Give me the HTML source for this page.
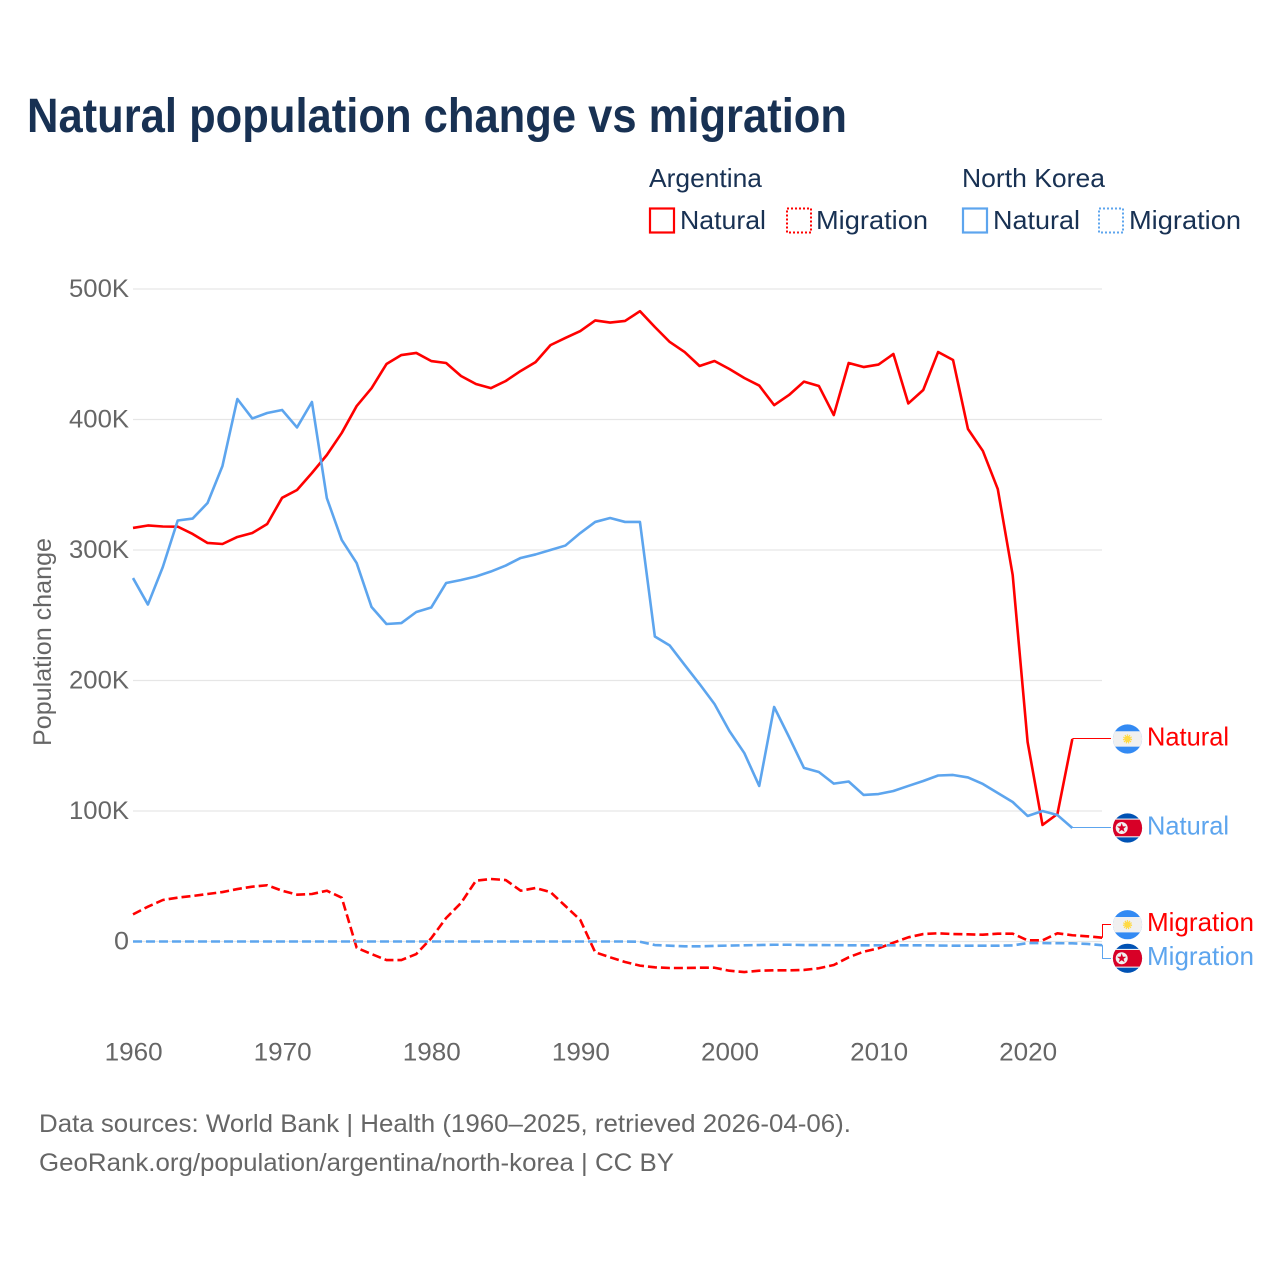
<!DOCTYPE html>
<html lang="en">
<head>
<meta charset="utf-8">
<title>Natural population change vs migration</title>
<style>
html,body{margin:0;padding:0;background:#fff;}
svg{display:block;font-family:"Liberation Sans",sans-serif;}
</style>
</head>
<body>
<svg id="chart" xmlns="http://www.w3.org/2000/svg" width="1280" height="1280" viewBox="0 0 1280 1280">
  <defs>
    <clipPath id="flag-clip"><circle cx="0" cy="0" r="14.6"/></clipPath>
    <g id="flag-ar">
      <g clip-path="url(#flag-clip)">
        <rect x="-15" y="-15" width="30" height="30" fill="#338af3"/>
        <rect x="-15" y="-7.7" width="30" height="15.4" fill="#f0f0f0"/>
        <circle cx="0" cy="0" r="3.2" fill="#ffda44"/>
        <circle cx="0" cy="0" r="3.9" fill="none" stroke="#ffda44" stroke-width="1.4" stroke-dasharray="1.2 1"/>
      </g>
    </g>
    <g id="flag-kp">
      <g clip-path="url(#flag-clip)">
        <rect x="-15" y="-15" width="30" height="30" fill="#0052b4"/>
        <rect x="-15" y="-9.4" width="30" height="18.8" fill="#f0f0f0"/>
        <rect x="-15" y="-8.3" width="30" height="16.6" fill="#d80027"/>
        <circle cx="-5.8" cy="0" r="6" fill="#f0f0f0"/>
        <polygon points="-5.8,-5 -4.6,-1.6 -1.1,-1.6 -3.9,0.6 -2.9,4 -5.8,2 -8.7,4 -7.7,0.6 -10.5,-1.6 -7,-1.6" fill="#d80027"/>
      </g>
    </g>
  </defs>

  <rect x="0" y="0" width="1280" height="1280" fill="#ffffff"/>

  <text x="27" y="132" font-size="48" font-weight="700" fill="#183153" textLength="820" lengthAdjust="spacingAndGlyphs">Natural population change vs migration</text>

  <g font-size="26" fill="#183153">
    <text x="649" y="187" textLength="113" lengthAdjust="spacingAndGlyphs">Argentina</text>
    <text x="962" y="187" textLength="143" lengthAdjust="spacingAndGlyphs">North Korea</text>

    <rect x="650" y="208.5" width="24" height="24" fill="none" stroke="#ff0000" stroke-width="2.2"/>
    <text x="680" y="229" textLength="86" lengthAdjust="spacingAndGlyphs">Natural</text>
    <rect x="787" y="208.5" width="24" height="24" fill="none" stroke="#ff0000" stroke-width="2" stroke-dasharray="2 2"/>
    <text x="816" y="229" textLength="112" lengthAdjust="spacingAndGlyphs">Migration</text>

    <rect x="963" y="208.5" width="24" height="24" fill="none" stroke="#5da5ee" stroke-width="2.2"/>
    <text x="993" y="229" textLength="87" lengthAdjust="spacingAndGlyphs">Natural</text>
    <rect x="1099" y="208.5" width="24" height="24" fill="none" stroke="#5da5ee" stroke-width="2" stroke-dasharray="2 2"/>
    <text x="1129" y="229" textLength="112" lengthAdjust="spacingAndGlyphs">Migration</text>
  </g>

  <g id="grid"></g>
  <g id="yticks"></g>
  <g id="xticks"></g>
  <text transform="translate(51,642) rotate(-90)" text-anchor="middle" font-size="25" fill="#666666" textLength="208" lengthAdjust="spacingAndGlyphs">Population change</text>
  <g id="series"></g>
  <g id="endlabels"></g>

  <g font-size="25" fill="#666666">
    <text x="39" y="1132" textLength="812" lengthAdjust="spacingAndGlyphs">Data sources: World Bank | Health (1960–2025, retrieved 2026-04-06).</text>
    <text x="39" y="1171" textLength="635" lengthAdjust="spacingAndGlyphs">GeoRank.org/population/argentina/north-korea | CC BY</text>
  </g>
</svg>

<script>
// Data (values in thousands of people)
var startYear = 1960;
var yTickValues = [0, 100, 200, 300, 400, 500];
var yTickLabels = ['0', '100K', '200K', '300K', '400K', '500K'];
var xTickValues = [1960, 1970, 1980, 1990, 2000, 2010, 2020];

// 1960-2023
var argentinaNatural = [316.9,318.8,318,317.9,312.3,305.4,304.6,310,313,319.9,340,346,359,372.8,389.7,410.3,424,442.5,449.4,451,444.8,443.3,433.3,427.2,424,429.5,437.2,444,457,462.5,467.8,475.9,474.3,475.5,483,470.9,459.4,451.7,441,444.8,438.7,431.8,426,411,418.8,429,425.7,403.4,443.3,440.2,442.1,450.2,412.3,422.6,451.7,445.6,392.7,375.9,346.7,280.8,152.9,89.3,97.7,155.2];
// 1960-2023
var northKoreaNatural = [278.5,258.2,287,322.6,324.1,336,364.4,415.7,400.8,405,407.3,393.9,413.4,339.8,307.7,290,256.3,243.3,244,252.5,255.9,274.7,277,279.7,283.5,288.1,293.9,296.6,300,303.4,313,321.5,324.5,321.5,321.5,233.7,226.8,211.9,197.3,182,161.3,144.4,119.2,179.7,156.7,133,129.9,121,122.6,112.3,113,115.3,119.2,123,127.2,127.6,125.7,120.7,113.8,106.9,96.2,100,96.9,87];
// 1960-2025
var argentinaMigration = [20.8,26.7,31.8,33.6,34.9,36.4,37.9,40.2,42,43.1,38.9,35.9,36.4,38.9,33.6,-4.8,-9.6,-14.2,-14.2,-9.6,2.5,18,29.5,46.6,47.9,47.1,38.9,41,37.9,27.2,16.5,-8.3,-12.1,-15.7,-18.5,-19.8,-20.3,-20.3,-20.1,-20.1,-22.4,-23.4,-22.4,-22.1,-22.1,-21.8,-20.5,-18,-12.1,-7.8,-5.2,-0.9,3.2,5.7,6.3,5.7,5.5,5.2,6,6,0.9,0.9,6.3,4.8,4,2.9];
// 1960-2025
var northKoreaMigration = [0,0,0,0,0,0,0,0,0,0,0,0,0,0,0,0,0,0,0,0,0,0,0,0,0,0,0,0,0,0,0,0,0,0,-0.2,-2.7,-3.2,-3.7,-3.7,-3.4,-3.1,-2.9,-2.7,-2.5,-2.5,-2.7,-2.7,-2.8,-2.9,-2.9,-2.9,-2.9,-2.9,-2.9,-3.1,-3.2,-3.2,-3.2,-3.2,-3,-1.2,-1.2,-1.3,-1.4,-1.9,-2.8];

var RED = '#ff0000';
var BLUE = '#5da5ee';
var SVGNS = 'http://www.w3.org/2000/svg';

function xScale(year) { return 133 + (year - 1960) * 14.91; }
function yScale(v) { return 941.5 - v * 1.305; }

function make(tag, parent, attrs, text) {
  var el = document.createElementNS(SVGNS, tag);
  for (var k in attrs) { el.setAttribute(k, attrs[k]); }
  if (text !== undefined) { el.textContent = text; }
  parent.appendChild(el);
  return el;
}

var grid = document.getElementById('grid');
var yticks = document.getElementById('yticks');
var xticks = document.getElementById('xticks');
var seriesG = document.getElementById('series');
var endG = document.getElementById('endlabels');

yTickValues.forEach(function (v, i) {
  var line = make('line', grid, {x1: 133, x2: 1102, y1: yScale(v), y2: yScale(v), stroke: '#e6e6e6', 'stroke-width': 1.2});
  
  
  var label = make('text', yticks, {x: 129, y: yScale(v) + 8, 'text-anchor': 'end', 'font-size': 25, fill: '#666666', textLength: v === 0 ? 15 : 60, lengthAdjust: 'spacingAndGlyphs'}, yTickLabels[i]);
  
  
});

xTickValues.forEach(function (yr) {
  var label = make('text', xticks, {x: xScale(yr) + 0.6, y: 1060.5, 'text-anchor': 'middle', 'font-size': 25, fill: '#666666', textLength: 58, lengthAdjust: 'spacingAndGlyphs'}, String(yr));
  
  
});

function linePath(values) {
  return values.map(function (v, i) {
    return (i ? 'L' : 'M') + xScale(startYear + i).toFixed(2) + ' ' + yScale(v).toFixed(2);
  }).join(' ');
}

function drawSeries(values, color, dashed, name) {
  var attrs = {d: linePath(values), fill: 'none', stroke: color, 'stroke-width': 2.6, 'stroke-linejoin': 'round'};
  if (dashed) { attrs['stroke-dasharray'] = '9 4'; }
  var p = make('path', seriesG, attrs);
  
  
}

drawSeries(argentinaMigration, RED, true, 'line-argentina-migration');
drawSeries(argentinaNatural, RED, false, 'line-argentina-natural');
drawSeries(northKoreaNatural, BLUE, false, 'line-north-korea-natural');
drawSeries(northKoreaMigration, BLUE, true, 'line-north-korea-migration');

function drawEndLabel(values, color, flag, text, width, labelY, name) {
  var lastX = xScale(startYear + values.length - 1);
  var lastY = yScale(values[values.length - 1]);
  var snappedY = Math.floor(labelY) + 0.5;
  var d = (Math.abs(labelY - lastY) < 1.5)
    ? 'M' + lastX + ' ' + snappedY + ' L1111 ' + snappedY
    : 'M' + (Math.floor(lastX) + 0.5) + ' ' + lastY + ' L' + (Math.floor(lastX) + 0.5) + ' ' + snappedY + ' L1111 ' + snappedY;
  var conn = make('path', endG, {d: d, fill: 'none', stroke: color, 'stroke-width': 1});
  
  
  var use = make('use', endG, {href: '#' + flag, transform: 'translate(1127.5,' + labelY + ')'});
  
  
  var t = make('text', endG, {x: 1147, y: labelY + 6.5, 'font-size': 26, fill: color, textLength: width, lengthAdjust: 'spacingAndGlyphs'}, text);
  
  
}

drawEndLabel(argentinaNatural, RED, 'flag-ar', 'Natural', 82, yScale(argentinaNatural[argentinaNatural.length - 1]), 'argentina-natural');
drawEndLabel(northKoreaNatural, BLUE, 'flag-kp', 'Natural', 82, yScale(northKoreaNatural[northKoreaNatural.length - 1]), 'north-korea-natural');
drawEndLabel(argentinaMigration, RED, 'flag-ar', 'Migration', 107, 924.7, 'argentina-migration');
drawEndLabel(northKoreaMigration, BLUE, 'flag-kp', 'Migration', 107, 958.3, 'north-korea-migration');
</script>
</body>
</html>
